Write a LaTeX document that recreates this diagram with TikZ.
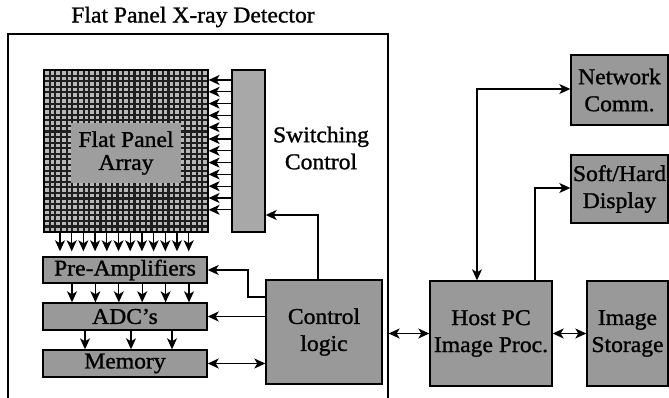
\documentclass[tikz,border=0pt]{standalone}
\usepackage{fontspec}
\setmainfont{Liberation Serif}[FakeStretch=1.05,FakeBold=1.2]
\usetikzlibrary{arrows.meta}
\begin{document}
\begin{tikzpicture}[x=1pt,y=-1pt,
  txt/.style={font=\fontsize{22.5}{27}\selectfont,align=center,inner sep=0pt},
  box/.style={txt,draw=black,line width=1.4pt,fill=black!40},
  conn/.style={line width=1.3pt,-{Stealth[length=11pt,width=10pt,inset=3pt]}},
  dconn/.style={line width=1.3pt,{Stealth[length=11pt,width=10pt,inset=3pt]}-{Stealth[length=11pt,width=10pt,inset=3pt]}}]
\useasboundingbox (0,0) rectangle (669,398);
% outer detector frame and title
\node[draw,line width=1.3pt,minimum width=380pt,minimum height=370pt,inner sep=0pt] (det) at (198,219) {};
\node[txt] (title) at (193,17) {Flat Panel X-ray Detector};
% flat panel array
\node[draw=black,line width=1.2pt,fill=black!88,minimum width=164pt,minimum height=162pt,inner sep=0pt] (arr) at (126,151) {};
\foreach \i in {0,...,28}{
  \foreach \j in {0,...,28}{
    \fill[black!28] ({44+5.655*\i+1.1},{70+5.586*\j+1.1}) rectangle ++(3.5,3.5);
  }
}
\node[txt,fill=black!38,minimum width=110pt,minimum height=60pt,font=\fontsize{22.5}{23}\selectfont] (arrtxt) at (126,153) {Flat Panel\\Array};
% switching control
\node[box,fill=black!34,minimum width=33pt,minimum height=162pt] (sw) at (248.5,151) {};
\node[txt] (swtxt) at (321,148) {Switching\\Control};
% readout chain
\node[box,minimum width=164pt,minimum height=26pt] (pre) at (125,270) {Pre-Amplifiers};
\node[box,minimum width=164pt,minimum height=27pt] (adc) at (125,316.5) {ADC's};
\node[box,minimum width=164pt,minimum height=27pt] (mem) at (125,363.5) {Memory};
\node[box,minimum width=116pt,minimum height=104pt] (ctl) at (324,332) {Control\\logic};
% external blocks
\node[box,minimum width=122pt,minimum height=105pt] (host) at (491,333.5) {Host PC\\Image Proc.};
\node[box,minimum width=81pt,minimum height=105pt] (stor) at (627.5,333.5) {Image\\Storage};
\node[box,minimum width=97pt,minimum height=70pt] (net) at (619.5,90) {Network\\Comm.};
\node[box,minimum width=97pt,minimum height=68pt] (disp) at (619.5,189) {Soft/Hard\\Display};
% switching control -> array rows
\foreach \k in {0,...,11}{
  \coordinate (r\k) at (0,{80+11.8*\k});
  \draw[conn] (sw.west |- r\k) -- (arr.east |- r\k);
}
% array columns -> pre-amplifiers
\foreach \k in {0,...,11}{
  \coordinate (c\k) at ({60+11.7*\k},0);
  \draw[conn,shorten >=5pt] (c\k |- arr.south) -- (c\k |- pre.north);
}
% pre-amplifiers -> ADCs
\foreach \k in {0,...,5}{
  \coordinate (p\k) at ({72+23.4*\k},0);
  \draw[conn] (p\k |- pre.south) -- (p\k |- adc.north);
}
% ADCs -> memory
\foreach \xx [count=\k] in {85,131,172}{
  \coordinate (m\k) at (\xx,0);
  \draw[conn] (m\k |- adc.south) -- (m\k |- mem.north);
}
% control logic connections
\coordinate (k1) at (318,215);
\draw[conn] (ctl.north -| k1) |- (sw.east |- k1);
\coordinate (k2) at (248,297);
\draw[conn] (ctl.west |- k2) -- (k2) |- (pre.east);
\draw[conn] (ctl.west |- adc.east) -- (adc.east);
\draw[dconn] (mem.east) -- (ctl.west |- mem.east);
% detector <-> host, host <-> storage
\draw[dconn] (det.east |- host.west) -- (host.west);
\draw[dconn] (host.east) -- (stor.west);
% host -> network / display
\coordinate (k3) at (477,89);
\draw[dconn] (host.north -| k3) |- (net.west |- k3);
\coordinate (k4) at (535,188);
\draw[conn] (host.north -| k4) |- (disp.west |- k4);
\end{tikzpicture}
\end{document}
